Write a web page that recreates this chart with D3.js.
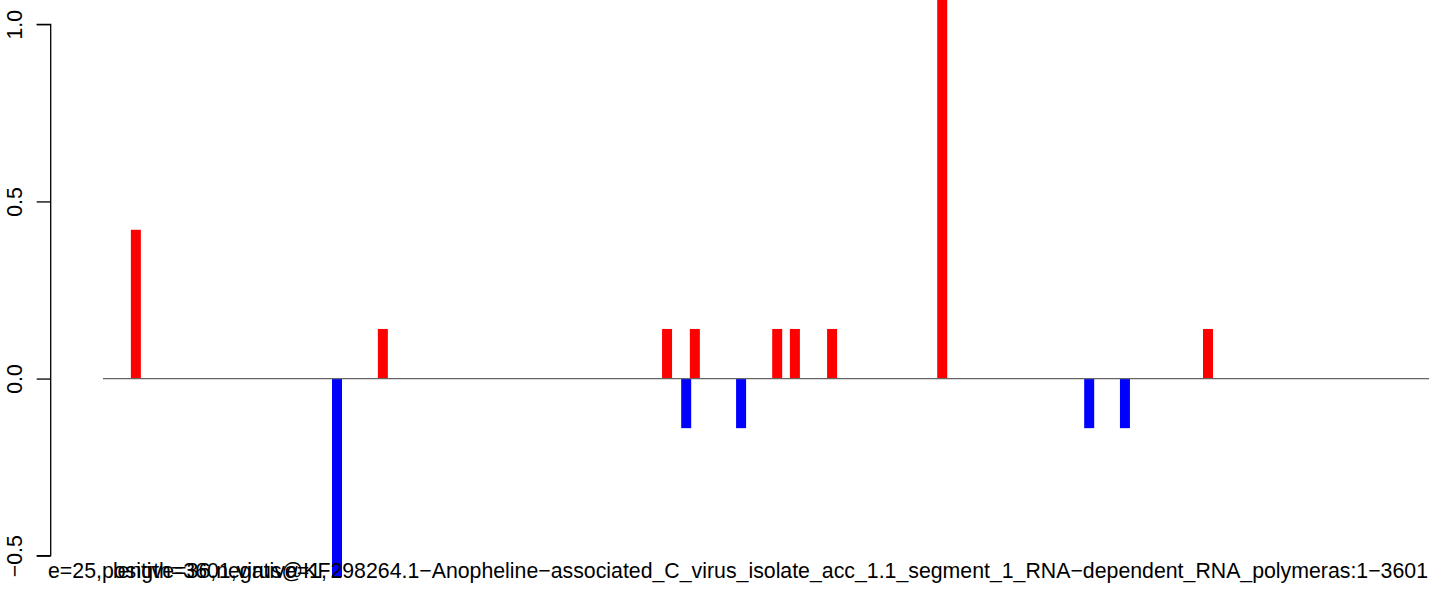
<!DOCTYPE html>
<html>
<head>
<meta charset="utf-8">
<script src="https://cdn.jsdelivr.net/npm/d3@7"></script>
<style>
  html, body { margin: 0; padding: 0; background: #ffffff; }
  svg { display: block; }
  text { font-family: "Liberation Sans", Arial, Helvetica, sans-serif; }
</style>
</head>
<body>
<div id="chart"></div>
<script>
// ---- data ----
const positivePositions = [92, 776, 1563, 1640, 1868, 1917, 2020, 2325, 3061];
const positiveValues    = [0.42, 0.14, 0.14, 0.14, 0.14, 0.14, 0.14, 1.12, 0.14];
const negativePositions = [649, 1616, 1768, 2732, 2831];
const negativeValues    = [-0.56, -0.14, -0.14, -0.14, -0.14];
const yTicks = [-0.5, 0.0, 0.5, 1.0];
const yTickLabels = ["\u22120.5", "0.0", "0.5", "1.0"];
const sequenceLength = 3601;
const labelCounts = "e=25,positive=36,negative=1,";
const labelVirus = "length=3601,virus@KF298264.1\u2212Anopheline\u2212associated_C_virus_isolate_acc_1.1_segment_1_RNA\u2212dependent_RNA_polymeras:1\u22123601";

const W = 1429, H = 590;
const svg = d3.select("#chart").append("svg")
  .attr("width", W).attr("height", H)
  .style("background", "#ffffff");

// x: R-style plot region with 4% expansion around 1..3601
const xPad = (sequenceLength - 1) * 0.04;
const x = d3.scaleLinear()
  .domain([1 - xPad, sequenceLength + xPad])
  .range([51, 1455]);
const y = d3.scaleLinear()
  .domain([-0.5, 1.0])
  .range([555.7, 24.3]);

const barW = 10;
const pos = positivePositions.map((p, i) => ({p, v: positiveValues[i]}));
const neg = negativePositions.map((p, i) => ({p, v: negativeValues[i]}));

svg.append("g").selectAll("rect").data(pos).join("rect")
  .attr("x", d => x(d.p) - barW / 2)
  .attr("width", barW)
  .attr("y", d => Math.max(0, y(d.v)))
  .attr("height", d => y(0) - Math.max(0, y(d.v)))
  .attr("fill", "#ff0000");

svg.append("g").selectAll("rect").data(neg).join("rect")
  .attr("x", d => x(d.p) - barW / 2)
  .attr("width", barW)
  .attr("y", y(0))
  .attr("height", d => y(d.v) - y(0))
  .attr("fill", "#0000ff");

// zero line
svg.append("line")
  .attr("x1", x(1)).attr("x2", W)
  .attr("y1", y(0)).attr("y2", y(0))
  .attr("stroke", "#666666").attr("stroke-width", 1.2);

// y axis (R style: rotated labels)
const yAxis = d3.axisLeft(y)
  .tickValues(yTicks)
  .tickSize(14)
  .tickFormat((d, i) => yTickLabels[i]);
const gy = svg.append("g").attr("transform", "translate(50.7,0)").call(yAxis);
gy.select(".domain").attr("d", `M-14,${y(1.0)}H0V${y(-0.5)}H-14`).attr("stroke", "#000").attr("stroke-width", 1.3).attr("fill", "none");
gy.selectAll(".tick line").attr("stroke", "#000").attr("stroke-width", 1.3);
gy.selectAll(".tick text")
  .attr("x", null).attr("dy", null)
  .attr("transform", "translate(-29,0) rotate(-90)")
  .attr("text-anchor", "middle")
  .attr("font-size", 21.3)
  .attr("font-family", "Liberation Sans, Arial, sans-serif")
  .attr("fill", "#000");

// bottom overlapping annotations
svg.append("text")
  .attr("x", 48).attr("y", 578)
  .attr("font-size", 21.3).attr("fill", "#000")
  .text(labelCounts);
svg.append("text")
  .attr("x", 1428).attr("y", 578)
  .attr("text-anchor", "end")
  .attr("font-size", 21.3).attr("fill", "#000")
  .text(labelVirus);
</script>
</body>
</html>
